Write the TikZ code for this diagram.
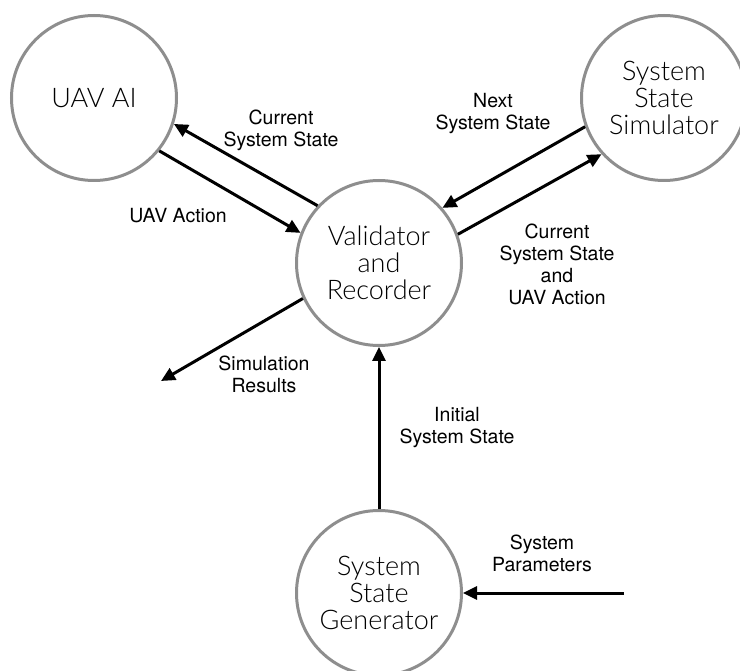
\documentclass[tikz,border=0pt]{standalone}
\usepackage{fontspec}
\setmainfont{TeX Gyre Heros}
\newfontfamily\lightfont{Lato Light}
\usetikzlibrary{arrows.meta}
\definecolor{circgray}{HTML}{8E8E8E}
\tikzset{
  proc/.style={circle, draw=circgray, line width=3pt, minimum size=165pt, inner sep=0pt,
    align=center, font=\lightfont\fontsize{27}{27}\selectfont},
  flow/.style={line width=3pt, -{Triangle[length=14pt,width=13pt]}},
  lbl/.style={align=center, font=\fontsize{19.5}{22}\selectfont, inner sep=0pt}
}
\begin{document}
\begin{tikzpicture}[x=1pt,y=-1pt]
\useasboundingbox (0,0) rectangle (740,671);
\clip (0,0) rectangle (740,671);
\node[proc] (uav) at (94,98) {UAV AI};
\node[proc] (sim) at (664,98) {System\\State\\Simulator};
\node[proc] (val) at (379,263) {Validator\\and\\Recorder};
\node[proc] (gen) at (379,593) {System\\State\\Generator};
\coordinate (res) at (161,381);
\coordinate (par) at (624,593);

\draw[flow] (val.137.9) -- (uav.-18.2);
\draw[flow] (uav.-39.5) -- (val.159.8);
\draw[flow] (sim.-160.7) -- (val.41.2);
\draw[flow] (val.20.2) -- (sim.-138.8);
\draw[flow] (val.205) -- (res);
\draw[flow] (gen.90) -- (val.270);
\draw[flow] (par) -- (gen.0);

\node[lbl] (l1) at (281,130) {Current\\System State};
\node[lbl] (l2) at (178,216) {UAV Action};
\node[lbl] (l3) at (493,114) {Next\\System State};
\node[lbl] (l4) at (557,264) {Current\\System State\\and\\UAV Action};
\node[lbl] (l5) at (264,374) {Simulation\\Results};
\node[lbl] (l6) at (457,428) {Initial\\System State};
\node[lbl] (l7) at (542,553) {System\\Parameters};
\end{tikzpicture}
\end{document}
